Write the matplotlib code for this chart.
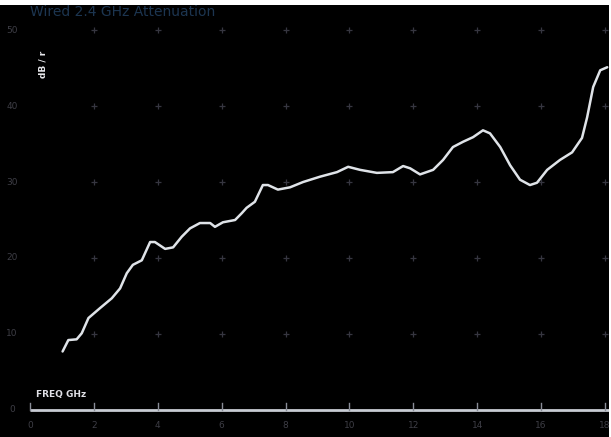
import matplotlib
matplotlib.use("Agg")
import matplotlib.pyplot as plt
import numpy as np

# ---- data ----
freq_ghz = [1.02, 1.20, 1.46, 1.62, 1.83, 2.19, 2.56, 2.82, 3.03, 3.22, 3.50, 3.76, 3.91,
            4.23, 4.48, 4.75, 5.01, 5.32, 5.64, 5.79, 6.04, 6.42, 6.63, 6.78, 7.04, 7.29,
            7.45, 7.76, 8.14, 8.55, 9.08, 9.61, 9.96, 10.33, 10.86, 11.36, 11.68, 11.90,
            12.21, 12.62, 12.93, 13.24, 13.56, 13.87, 14.18, 14.40, 14.72, 15.03, 15.34,
            15.65, 15.87, 16.19, 16.59, 16.97, 17.28, 17.44, 17.63, 17.85, 18.07]
atten_db = [7.7, 9.2, 9.3, 10.1, 12.1, 13.4, 14.7, 16.0, 18.0, 19.1, 19.7, 22.1, 22.1,
            21.2, 21.4, 22.8, 23.9, 24.6, 24.6, 24.1, 24.7, 25.0, 25.9, 26.6, 27.4, 29.6,
            29.6, 29.0, 29.3, 30.0, 30.7, 31.3, 32.0, 31.6, 31.2, 31.3, 32.1, 31.8,
            31.0, 31.6, 32.9, 34.6, 35.3, 35.9, 36.8, 36.4, 34.6, 32.2, 30.3,
            29.6, 29.9, 31.6, 32.9, 33.9, 35.8, 38.5, 42.5, 44.7, 45.1]
x_ticks = [0, 2, 4, 6, 8, 10, 12, 14, 16, 18]
y_ticks = [0, 10, 20, 30, 40, 50]
title_text = "Wired 2.4 GHz Attenuation"
x_label = "FREQ GHz"
y_label = "dB / r"

W, H = 611, 437
fig = plt.figure(figsize=(W / 100, H / 100), dpi=100, facecolor="white")
# black screen area (thin white strip at top and right)
ax = fig.add_axes([0, 0, 609 / W, 432 / H])
ax.set_facecolor("black")
for s in ax.spines.values():
    s.set_visible(False)
ax.set_xticks([])
ax.set_yticks([])

# pixel mapping: x=0 -> 30px, x=18 -> 605px ; y=0 -> 410px, y=50 -> 30px
xs = 18 / 575.0
ys = 50 / 380.0
ax.set_xlim(-30 * xs, 18 + 4 * xs)
ax.set_ylim(-(437 - 410) * ys, 50 + (30 - 5) * ys)

# grid crosses
gx = [t for t in x_ticks if t > 0]
gy = [t for t in y_ticks if t > 0]
GX, GY = np.meshgrid(gx, gy)
ax.scatter(GX.ravel(), GY.ravel(), marker="+", s=22, color="#363640", linewidths=0.9, zorder=1)

# y tick labels
for t in y_ticks:
    ax.text(-0.57, t, str(t), color="#3e3e46", fontsize=6.5, ha="center", va="center")

# baseline axis
ax.plot([x_ticks[0], 18 + 4 * xs], [0, 0], color="#c8ccd4", lw=2.0, solid_capstyle="butt", zorder=3)
for t in x_ticks:
    ax.plot([t, t], [0, 0.9], color="#8a8e98", lw=1.0, zorder=3)
    ax.text(t, -2.0, str(t), color="#3e3e46", fontsize=6.5, ha="center", va="center")

# curve
ax.plot(freq_ghz, atten_db, color="#dfe3e8", lw=1.8, zorder=4,
        solid_joinstyle="round", solid_capstyle="round")

# texts
ax.text(0.0, 52.4, title_text, color="#1c3550", fontsize=10, ha="left", va="center")
ax.text(0.4, 45.5, y_label, color="#e8e8ec", fontsize=6.5, fontweight="bold",
        rotation=90, ha="center", va="center")
ax.text(0.2, 2.0, x_label, color="#e0e0e6", fontsize=6.5, fontweight="bold",
        ha="left", va="center")

fig.savefig("out.png", dpi=100, facecolor="white")
